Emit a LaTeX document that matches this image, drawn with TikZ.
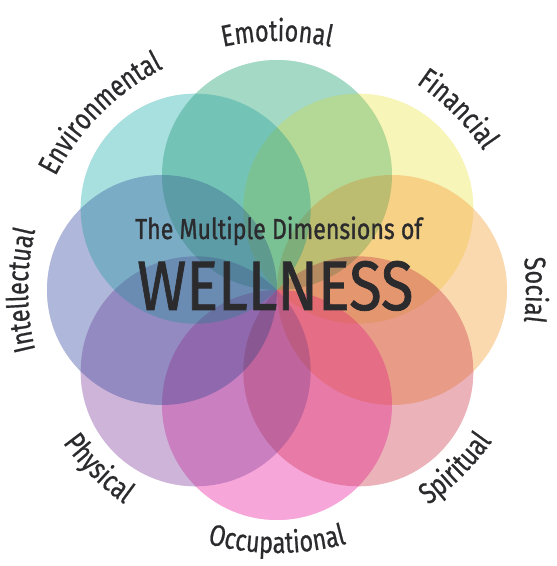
\documentclass[tikz,border=0pt]{standalone}
\usepackage{fontspec}
\usepackage{graphicx}
\usetikzlibrary{decorations.text}
\newfontfamily\lblfont{Fira Sans}[FakeStretch=0.78,FakeBold=0.6]
\newfontfamily\ttlfont{Fira Sans}[FakeBold=1.2]
\definecolor{txt}{HTML}{2B2A2D}
% single-region colours of the reference
\definecolor{sEmo}{HTML}{A3D9C5}
\definecolor{sEnv}{HTML}{A8DFDF}
\definecolor{sFin}{HTML}{F9F5B9}
\definecolor{sSoc}{HTML}{FBD9B0}
\definecolor{sSpi}{HTML}{ECB3B9}
\definecolor{sOcc}{HTML}{F7A6D8}
\definecolor{sPhy}{HTML}{CFB5DB}
\definecolor{sInt}{HTML}{B0B7DA}
% fill colours giving the same single regions at 55% opacity over white
\definecolor{cEmo}{RGB}{88,186,150}
\definecolor{cEnv}{RGB}{97,197,197}
\definecolor{cFin}{RGB}{244,237,128}
\definecolor{cSoc}{RGB}{248,186,111}
\definecolor{cSpi}{RGB}{220,117,128}
\definecolor{cOcc}{RGB}{240,93,184}
\definecolor{cPhy}{RGB}{168,120,189}
\definecolor{cInt}{RGB}{111,124,188}
\newcommand\lbl{\lblfont\fontsize{30}{36}\selectfont\color{txt}}
\tikzset{
  curvedlabel/.style={decorate, decoration={text along path, text align=center, text={|\lbl|#1}}},
  petal/.style={fill=#1, fill opacity=0.55},
}
\begin{document}
\begin{tikzpicture}[x=1pt,y=1pt]
\useasboundingbox (0,0) rectangle (557,566);
\fill[white] (0,0) rectangle (557,566);
\coordinate (C) at (277,276);
% translucent layer
\foreach \a/\c in {90/cEmo,45/cFin,0/cSoc,-45/cSpi,-90/cOcc,-135/cPhy,180/cInt,135/cEnv}
  \fill[petal=\c] ([shift={(\a:115)}]C) circle[radius=115];
% multiplied layer, half strength
\begin{scope}[transparency group, opacity=0.55]
\begin{scope}[blend group=multiply]
\foreach \a/\c in {90/sEmo,45/sFin,0/sSoc,-45/sSpi,-90/sOcc,-135/sPhy,180/sInt,135/sEnv}
  \fill[\c] ([shift={(\a:115)}]C) circle[radius=115];
\end{scope}
\end{scope}
% labels on top half (clockwise, tops outward)
\foreach \a/\t in {180/Intellectual,135/Environmental,90/Emotional,45/Financial,0/Social}
  \path[curvedlabel=\t] ([shift={(\a+45:249)}]C) arc[start angle=\a+45, end angle=\a-45, radius=249];
% labels on bottom half (counter-clockwise, tops inward)
\foreach \a/\t in {-135/Physical,-90/Occupational,-45/Spiritual}
  \path[curvedlabel=\t] ([shift={(\a-45:263)}]C) arc[start angle=\a-45, end angle=\a+45, radius=263];
\node[anchor=base west, inner sep=0, text=txt] (title) at (135,327)
  {\resizebox{287pt}{22.5pt}{\ttlfont The Multiple Dimensions of}};
\node[anchor=base west, inner sep=0, text=txt] (wellness) at (137,256)
  {\resizebox{276pt}{49pt}{\ttlfont WELLNESS}};
\end{tikzpicture}
\end{document}
